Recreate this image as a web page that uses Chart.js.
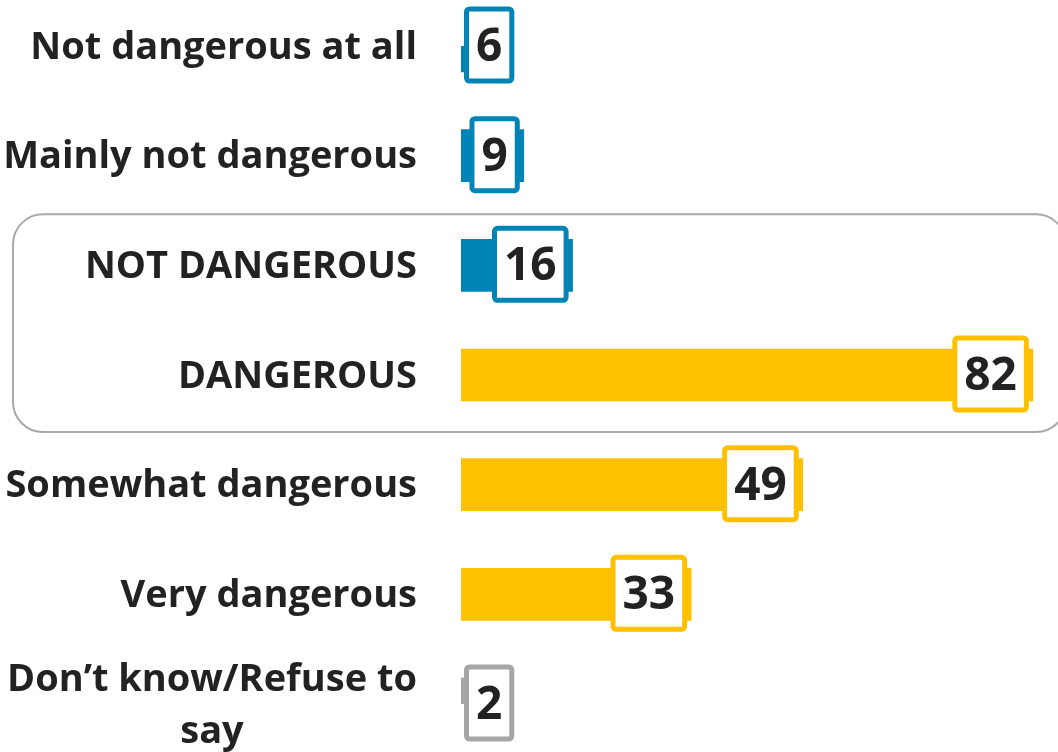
<!DOCTYPE html>
<html>
<head>
<meta charset="utf-8">
<script src="https://cdn.jsdelivr.net/npm/chart.js@4.4.0/dist/chart.umd.min.js"></script>
<style>
html,body{margin:0;padding:0;background:#fff;overflow:hidden;}
#wrap{position:relative;width:1058px;height:752px;}
</style>
</head>
<body>
<div id="wrap"><canvas id="c" width="1058" height="752"></canvas></div>
<script>
const categories = [
  ['Not dangerous at all'],
  ['Mainly not dangerous'],
  ['NOT DANGEROUS'],
  ['DANGEROUS'],
  ['Somewhat dangerous'],
  ['Very dangerous'],
  ['Don\u2019t know/Refuse to', 'say']
];
const values = [6, 9, 16, 82, 49, 33, 2];
const valueLabels = ['6', '9', '16', '82', '49', '33', '2'];
const groups = ['no', 'no', 'no', 'yes', 'yes', 'yes', 'dk'];
const groupColors = { no: '#0084B6', yes: '#FFC000', dk: '#A6A6A6' };
const highlighted = [2, 3];

const FONT = '"Open Sans", "Noto Sans", sans-serif';

const drawPlugin = {
  id: 'custom',
  beforeDatasetsDraw(chart) {
    const ctx = chart.ctx;
    const y = chart.scales.y;
    const top = y.getPixelForValue(highlighted[0]) - 51;
    const bottom = y.getPixelForValue(highlighted[1]) + 57;
    const left = 13, right = 1066, r = 30;
    ctx.save();
    ctx.strokeStyle = '#A9A9A9';
    ctx.lineWidth = 2;
    ctx.beginPath();
    ctx.roundRect(left, top, right - left, bottom - top, r);
    ctx.stroke();
    ctx.restore();
  },
  afterDraw(chart) {
    const ctx = chart.ctx;
    const ys = chart.scales.y;
    const area = chart.chartArea;
    ctx.save();
    // category labels
    ctx.fillStyle = '#222222';
    ctx.font = 'bold 38px ' + FONT;
    categories.forEach((lines, i) => {
      const cy = ys.getPixelForValue(i) + 2;
      const lh = 52;
      const x = area.left - 44;
      if (lines.length === 1) {
        ctx.textAlign = 'right';
        ctx.textBaseline = 'middle';
        ctx.fillText(lines[0], x, cy);
      } else {
        const w0 = ctx.measureText(lines[0]).width;
        const centerX = x - w0 / 2;
        const startY = cy - lh * (lines.length - 1) / 2;
        lines.forEach((ln, k) => {
          ctx.textBaseline = 'middle';
          if (k === 0) { ctx.textAlign = 'right'; ctx.fillText(ln, x, startY); }
          else { ctx.textAlign = 'center'; ctx.fillText(ln, centerX, startY + k * lh); }
        });
      }
    });
    // value boxes
    const meta = chart.getDatasetMeta(0);
    ctx.font = 'bold 46px ' + FONT;
    meta.data.forEach((bar, i) => {
      const tw = ctx.measureText(valueLabels[i]).width;
      const ow = tw + 24, oh = 77;
      let bx = bar.x - 4 - ow;
      const minX = area.left + 3;
      if (bx < minX) bx = minX;
      const by = bar.y - 1 - oh / 2;
      ctx.beginPath();
      ctx.roundRect(bx + 2.5, by + 2.5, ow - 5, oh - 5, 3);
      ctx.fillStyle = '#ffffff';
      ctx.fill();
      ctx.lineWidth = 5;
      ctx.strokeStyle = groupColors[groups[i]];
      ctx.stroke();
      ctx.fillStyle = '#222222';
      ctx.textAlign = 'center';
      ctx.textBaseline = 'middle';
      ctx.fillText(valueLabels[i], bx + ow / 2, by + oh / 2 + 3);
    });
    ctx.restore();
  }
};

new Chart(document.getElementById('c'), {
  type: 'bar',
  data: {
    labels: categories.map(c => c.join(' ')),
    datasets: [{
      data: values,
      backgroundColor: groups.map(g => groupColors[g]),
      borderWidth: 0,
      barThickness: 52
    }]
  },
  options: {
    indexAxis: 'y',
    responsive: false,
    animation: false,
    layout: { padding: { left: 461, right: 0, top: 46, bottom: 48 } },
    plugins: { legend: { display: false }, tooltip: { enabled: false } },
    scales: {
      x: { display: false, min: 0, max: 85.6 },
      y: { display: false, offset: false }
    }
  },
  plugins: [drawPlugin]
});
</script>
</body>
</html>
